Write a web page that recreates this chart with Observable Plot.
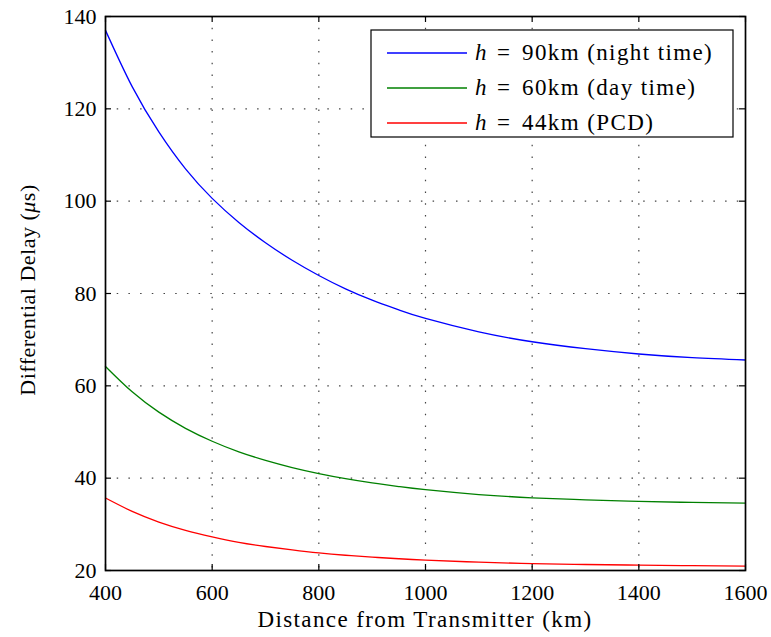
<!DOCTYPE html>
<html><head><meta charset="utf-8">
<script src="https://cdn.jsdelivr.net/npm/d3@7"></script>
<script src="https://cdn.jsdelivr.net/npm/@observablehq/plot@0.6"></script>
<style>
body{margin:0;background:#fff;}
#chart{position:relative;width:771px;height:637px;}
</style></head><body><div id="chart"></div>
<script>
// Distance from transmitter (km)
const distance = [400,450,500,550,600,650,700,750,800,850,900,950,1000,1100,1200,1300,1400,1500,1600];
// Differential delay (µs) per ionospheric height
const night = [137,124.8,115.0,107.0,100.6,95.4,91.0,87.2,83.9,81.0,78.55,76.45,74.6,71.7,69.55,68.05,66.9,66.1,65.6];
const day   = [64.2,58.7,54.3,50.8,48.0,45.7,43.85,42.3,41.0,39.9,38.98,38.19,37.5,36.45,35.75,35.3,34.97,34.75,34.6];
const pcd   = [35.7,32.8,30.5,28.7,27.3,26.1,25.2,24.45,23.8,23.3,22.9,22.55,22.25,21.8,21.5,21.3,21.17,21.05,20.95];
const seriesNames = ["night","day","pcd"];
const seriesColors = ["#0000ff","#008000","#ff0000"];
const legendHeights = ["90km","60km","44km"];
const legendNotes = ["(night time)","(day time)","(PCD)"];
const xTicks = [400,600,800,1000,1200,1400,1600];
const yTicks = [20,40,60,80,100,120,140];
const xTitle = "Distance from Transmitter (km)";
const yTitle = "Differential Delay (";
const yUnitMu = "μ";
const yUnitRest = "s)";

const rows = [];
[night, day, pcd].forEach((vals, i) => vals.forEach((v, j) => rows.push({series: seriesNames[i], d: distance[j], v})));

const W = 771, H = 637, mL = 105, mR = 26, mT = 16, mB = 67;
const iw = W - mL - mR, ih = H - mT - mB;
const tk = 6;
const FONT = "Liberation Serif";

const plot = Plot.plot({
  width: W, height: H, marginLeft: mL, marginRight: mR, marginTop: mT, marginBottom: mB,
  style: {fontFamily: FONT, fontSize: "22px", background: "#fff", color: "#000", overflow: "visible"},
  x: {domain: [400, 1600]},
  y: {domain: [20, 140]},
  color: {domain: seriesNames, range: seriesColors},
  marks: [
    Plot.ruleX(xTicks.slice(1, -1), {stroke: "#444", strokeDasharray: "1.5,10.2", strokeWidth: 1.2}),
    Plot.ruleY(yTicks.slice(1, -1), {stroke: "#444", strokeDasharray: "1.5,10.2", strokeWidth: 1.2}),
    Plot.line(rows, {x: "d", y: "v", z: "series", stroke: "series", strokeWidth: 1.3, curve: "natural"}),
    Plot.tickX(xTicks, {x: d => d, insetTop: ih - tk, stroke: "#000", strokeWidth: 1.2}),
    Plot.tickX(xTicks, {x: d => d, insetBottom: ih - tk, stroke: "#000", strokeWidth: 1.2}),
    Plot.tickY(yTicks, {y: d => d, insetRight: iw - tk, stroke: "#000", strokeWidth: 1.2}),
    Plot.tickY(yTicks, {y: d => d, insetLeft: iw - tk, stroke: "#000", strokeWidth: 1.2}),
    Plot.frame({stroke: "#000", strokeWidth: 1.7}),
    Plot.axisX(xTicks, {tickSize: 0, tickPadding: 14, label: null, fontSize: 22, tickFormat: d => String(d)}),
    Plot.axisY(yTicks, {tickSize: 0, tickPadding: 9, label: null, fontSize: 22, tickFormat: d => String(d)})
  ]
});
document.getElementById("chart").appendChild(plot);

const svg = d3.select(plot);
// axis titles
svg.append("text").attr("x", mL + iw / 2).attr("y", 627).attr("text-anchor", "middle")
  .attr("font-family", FONT).attr("font-size", 23).attr("letter-spacing", 1.4).attr("fill", "#000").text(xTitle);
const yt = svg.append("text").attr("transform", `translate(35,290) rotate(-90)`)
  .attr("text-anchor", "middle").attr("font-family", FONT).attr("font-size", 22)
  .attr("letter-spacing", 0.5).attr("fill", "#000");
yt.append("tspan").text(yTitle);
yt.append("tspan").attr("font-style", "italic").text(yUnitMu);
yt.append("tspan").text(yUnitRest);

// legend
const lg = svg.append("g").attr("text-anchor", "start");
lg.append("rect").attr("x", 371).attr("y", 30).attr("width", 362).attr("height", 107)
  .attr("fill", "#fff").attr("stroke", "#000").attr("stroke-width", 1.2);
seriesNames.forEach((s, i) => {
  const yy = 53 + i * 35;
  lg.append("line").attr("x1", 387).attr("x2", 467).attr("y1", yy).attr("y2", yy)
    .attr("stroke", seriesColors[i]).attr("stroke-width", 1.3);
  const t = lg.append("text").attr("y", yy + 7).attr("font-family", FONT)
    .attr("font-size", 23).attr("fill", "#000").attr("text-anchor", "start");
  t.append("tspan").attr("x", 475).attr("font-style", "italic").text("h");
  t.append("tspan").attr("x", 497).text("=");
  t.append("tspan").attr("x", 522).attr("letter-spacing", 1.4).text(legendHeights[i] + " " + legendNotes[i]);
});
</script></body></html>
